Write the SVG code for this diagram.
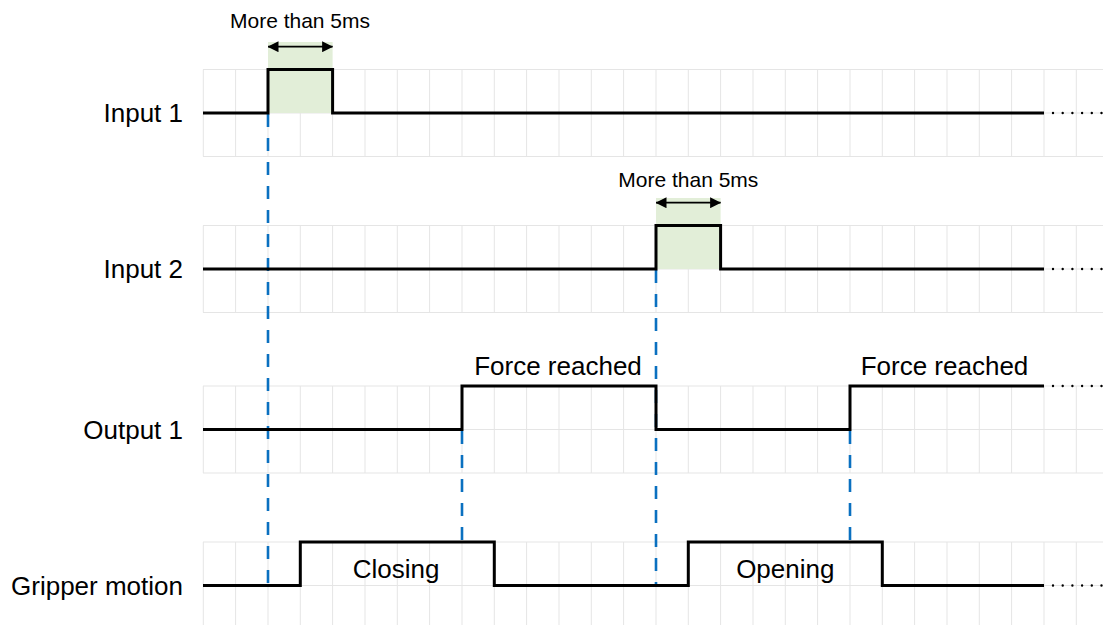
<svg xmlns="http://www.w3.org/2000/svg" width="1103" height="625" viewBox="0 0 1103 625">
<style>
.grid{stroke:#e5e5e5;stroke-width:1;fill:none}
.sig{stroke:#000;stroke-width:3;fill:none;stroke-linejoin:miter}
.dots{stroke:#000;stroke-width:2.4;stroke-linecap:round;stroke-dasharray:0 9.7;fill:none}
.guide{stroke:#0A70C0;stroke-width:2.6;stroke-dasharray:13 11;fill:none}
.lbl{font-family:"Liberation Sans",Arial,sans-serif;font-size:26px;fill:#000}
.sm{font-family:"Liberation Sans",Arial,sans-serif;font-size:21px;fill:#000}
.span{fill:#e2eed8}
.arr{stroke:#000;stroke-width:1.8;fill:none;marker-start:url(#ah);marker-end:url(#ah)}
</style>
<defs>
<marker id="ah" viewBox="0 0 11 11" refX="10.5" refY="5.5" markerWidth="11" markerHeight="11" markerUnits="userSpaceOnUse" orient="auto-start-reverse">
<path d="M0,0 L11,5.5 L0,11 Z" fill="#000"/>
</marker>
</defs>
<g id="grid-lines" class="grid">
<path d="M203,69.5H1103M203,113H1103M203,156.5H1103 M203,225.5H1103M203,269H1103M203,312.5H1103 M203,386H1103M203,429.5H1103M203,473H1103 M203,542H1103M203,585.5H1103"/>
<path d="M203.3,69.5V156.5M235.6,69.5V156.5M268,69.5V156.5M300.3,69.5V156.5M332.6,69.5V156.5M365,69.5V156.5M397.3,69.5V156.5M429.6,69.5V156.5M462,69.5V156.5M494.3,69.5V156.5M526.6,69.5V156.5M559,69.5V156.5M591.3,69.5V156.5M623.6,69.5V156.5M656,69.5V156.5M688.3,69.5V156.5M720.6,69.5V156.5M753,69.5V156.5M785.3,69.5V156.5M817.6,69.5V156.5M850,69.5V156.5M882.3,69.5V156.5M914.6,69.5V156.5M947,69.5V156.5M979.3,69.5V156.5M1011.6,69.5V156.5M1044,69.5V156.5M1076.3,69.5V156.5"/>
<path d="M203.3,225.5V312.5M235.6,225.5V312.5M268,225.5V312.5M300.3,225.5V312.5M332.6,225.5V312.5M365,225.5V312.5M397.3,225.5V312.5M429.6,225.5V312.5M462,225.5V312.5M494.3,225.5V312.5M526.6,225.5V312.5M559,225.5V312.5M591.3,225.5V312.5M623.6,225.5V312.5M656,225.5V312.5M688.3,225.5V312.5M720.6,225.5V312.5M753,225.5V312.5M785.3,225.5V312.5M817.6,225.5V312.5M850,225.5V312.5M882.3,225.5V312.5M914.6,225.5V312.5M947,225.5V312.5M979.3,225.5V312.5M1011.6,225.5V312.5M1044,225.5V312.5M1076.3,225.5V312.5"/>
<path d="M203.3,386V473M235.6,386V473M268,386V473M300.3,386V473M332.6,386V473M365,386V473M397.3,386V473M429.6,386V473M462,386V473M494.3,386V473M526.6,386V473M559,386V473M591.3,386V473M623.6,386V473M656,386V473M688.3,386V473M720.6,386V473M753,386V473M785.3,386V473M817.6,386V473M850,386V473M882.3,386V473M914.6,386V473M947,386V473M979.3,386V473M1011.6,386V473M1044,386V473M1076.3,386V473"/>
<path d="M203.3,542V625M235.6,542V625M268,542V625M300.3,542V625M332.6,542V625M365,542V625M397.3,542V625M429.6,542V625M462,542V625M494.3,542V625M526.6,542V625M559,542V625M591.3,542V625M623.6,542V625M656,542V625M688.3,542V625M720.6,542V625M753,542V625M785.3,542V625M817.6,542V625M850,542V625M882.3,542V625M914.6,542V625M947,542V625M979.3,542V625M1011.6,542V625M1044,542V625M1076.3,542V625"/>
</g>
<g id="connectors">
<line class="guide" x1="268" y1="114" x2="268" y2="585"/>
<line class="guide" x1="462" y1="431" x2="462" y2="541"/>
<line class="guide" x1="656" y1="270" x2="656" y2="585"/>
<line class="guide" x1="850" y1="431" x2="850" y2="541"/>
</g>
<g id="input1">
<rect class="span" x="268" y="42" width="64.6" height="71"/>
<text class="lbl" x="183" y="122" text-anchor="end">Input 1</text>
<path class="sig" d="M203,113H268V69.5H332.6V113H1044"/>
<path class="dots" d="M1053,113H1103"/>
<line class="arr" x1="268" y1="46.7" x2="332.6" y2="46.7"/>
<text class="sm" x="300" y="28" text-anchor="middle">More than 5ms</text>
</g>
<g id="input2">
<rect class="span" x="656" y="198" width="64.6" height="71"/>
<text class="lbl" x="183" y="278" text-anchor="end">Input 2</text>
<path class="sig" d="M203,269H656V225.5H720.6V269H1044"/>
<path class="dots" d="M1053,269H1103"/>
<line class="arr" x1="656" y1="202.7" x2="720.6" y2="202.7"/>
<text class="sm" x="688.3" y="187" text-anchor="middle">More than 5ms</text>
</g>
<g id="output1">
<text class="lbl" x="183" y="438.5" text-anchor="end">Output 1</text>
<path class="sig" d="M203,429.5H462V386H656V429.5H850V386H1044"/>
<path class="dots" d="M1053,386H1103"/>
<text class="lbl" x="558" y="375" text-anchor="middle">Force reached</text>
<text class="lbl" x="944.5" y="375" text-anchor="middle">Force reached</text>
</g>
<g id="gripper">
<text class="lbl" x="183" y="595" text-anchor="end">Gripper motion</text>
<path class="sig" d="M203,585.5H300.3V542H494.3V585.5H688.3V542H882.3V585.5H1044"/>
<path class="dots" d="M1053,585.5H1103"/>
<text class="lbl" x="396" y="578" text-anchor="middle">Closing</text>
<text class="lbl" x="785.3" y="578" text-anchor="middle">Opening</text>
</g>
</svg>
